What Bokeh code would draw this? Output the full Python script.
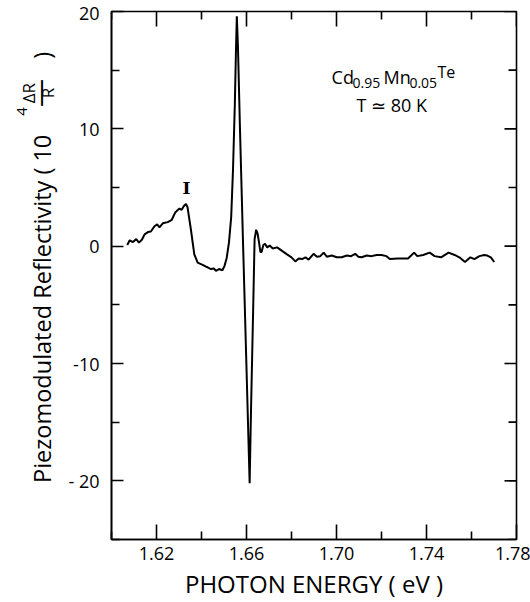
import math
from bokeh.plotting import figure
from bokeh.models import FixedTicker, Label, Range1d, NumeralTickFormatter
from bokeh.layouts import row
from bokeh.embed import file_html
from bokeh.resources import INLINE

# ---------------- data ----------------
energy = [1.6070, 1.6081, 1.6095, 1.6110, 1.6122, 1.6135, 1.6147, 1.6162, 1.6175, 1.6191,
          1.6203, 1.6213, 1.6228, 1.6250, 1.6268, 1.6284, 1.6302, 1.6312, 1.6321, 1.6331,
          1.6338, 1.6353, 1.6368, 1.6383, 1.6405, 1.6420, 1.6427, 1.6442, 1.6455, 1.6464,
          1.6478, 1.6493, 1.6502, 1.6512, 1.6522, 1.6532, 1.6540, 1.6548, 1.6553, 1.6557,
          1.6562, 1.6571, 1.6585, 1.6600, 1.6614, 1.6620, 1.6630, 1.6636, 1.6643, 1.6649,
          1.6655, 1.6662, 1.6667, 1.6675, 1.6682, 1.6692, 1.6703, 1.6717, 1.6736, 1.6758,
          1.6780, 1.6800, 1.6817, 1.6832, 1.6847, 1.6862, 1.6876, 1.6898, 1.6913, 1.6928,
          1.6943, 1.6957, 1.6979, 1.7001, 1.7023, 1.7046, 1.7065, 1.7083, 1.7097, 1.7112,
          1.7134, 1.7156, 1.7178, 1.7200, 1.7222, 1.7237, 1.7274, 1.7318, 1.7345, 1.7359,
          1.7385, 1.7414, 1.7436, 1.7465, 1.7498, 1.7525, 1.7546, 1.7571, 1.7595, 1.7613,
          1.7635, 1.7657, 1.7670, 1.7686, 1.7701]
signal = [0.1, 0.5, 0.35, 0.6, 0.3, 0.55, 1.0, 1.2, 1.25, 1.7,
          1.85, 1.6, 1.95, 2.05, 2.25, 2.9, 3.2, 3.1, 3.4, 3.6,
          3.3, 1.4, -0.7, -1.4, -1.6, -1.75, -1.8, -1.95, -1.9, -2.1,
          -1.95, -2.05, -1.7, -1.0, 0.3, 2.5, 6.5, 12.0, 16.5, 19.6,
          17.0, 10.0, 0.0, -10.4, -20.2, -14.0, -5.0, 0.6, 1.4, 1.1,
          0.4, -0.5, -0.5, 0.1, 0.2, -0.1, 0.05, -0.2, -0.1, -0.4,
          -0.7, -0.95, -1.3, -1.05, -1.1, -0.95, -1.15, -0.65, -0.9, -0.85,
          -0.55, -0.9, -0.8, -0.95, -0.95, -0.8, -0.85, -0.65, -0.9, -0.95,
          -0.8, -0.85, -0.75, -0.75, -0.85, -1.1, -1.05, -1.05, -0.55, -0.85,
          -0.75, -0.55, -0.85, -0.95, -0.55, -0.75, -0.95, -1.35, -0.95, -1.1,
          -0.85, -0.75, -0.8, -0.95, -1.35]

x_major = [1.62, 1.66, 1.70, 1.74, 1.78]
x_minor = [1.60, 1.64, 1.68, 1.72, 1.76]
y_major = [-20, -10, 0, 10, 20]
y_minor = [-25, -15, -5, 5, 15]
y_tick_labels = {-20: "- 20", -10: "-10", 0: "0", 10: "10", 20: "20"}
x_lo, x_hi = 1.60, 1.78
y_lo, y_hi = -25, 20

x_title = "PHOTON ENERGY ( eV )"
y_title = "Piezomodulated Reflectivity ( 10"
peak_label = "I"

FONT = "Open Sans"
LW = 1.6

# ---------------- main plot ----------------
p = figure(width=472, height=602,
           x_range=Range1d(x_lo, x_hi), y_range=Range1d(y_lo, y_hi),
           output_backend="svg", toolbar_location=None,
           min_border_left=53, min_border_right=14,
           min_border_top=11, min_border_bottom=62)
p.grid.visible = False
p.outline_line_color = "black"
p.outline_line_width = LW


def style(ax, major, minor, maj_len, min_len):
    ax.ticker = FixedTicker(ticks=major, minor_ticks=minor)
    ax.major_tick_in = maj_len
    ax.major_tick_out = 0
    ax.minor_tick_in = min_len
    ax.minor_tick_out = 0
    ax.axis_line_color = "black"
    ax.major_tick_line_color = "black"
    ax.minor_tick_line_color = "black"
    ax.axis_line_width = LW
    ax.major_tick_line_width = LW
    ax.minor_tick_line_width = LW
    ax.major_label_text_font = FONT
    ax.major_label_text_font_size = "18px"
    ax.major_label_text_color = "black"


style(p.xaxis[0], x_major, x_minor, 15, 8)
style(p.yaxis[0], y_major, y_minor, 12, 8)
p.xaxis[0].formatter = NumeralTickFormatter(format="0.00")
p.xaxis[0].major_label_standoff = 7
p.yaxis[0].major_label_standoff = 12
p.yaxis[0].major_label_overrides = y_tick_labels
p.xaxis[0].axis_label = x_title
p.xaxis[0].axis_label_text_font = FONT
p.xaxis[0].axis_label_text_font_size = "24px"
p.xaxis[0].axis_label_text_font_style = "normal"
p.xaxis[0].axis_label_text_color = "black"
p.xaxis[0].axis_label_standoff = 4

# inward ticks on the top and right edges of the frame
p.ray(x=x_major, y=y_hi, length=15, length_units="screen", angle=-math.pi / 2,
      line_color="black", line_width=LW)
p.ray(x=x_minor, y=y_hi, length=8, length_units="screen", angle=-math.pi / 2,
      line_color="black", line_width=LW)
p.ray(x=x_hi, y=y_major, length=12, length_units="screen", angle=math.pi,
      line_color="black", line_width=LW)
p.ray(x=x_hi, y=y_minor, length=8, length_units="screen", angle=math.pi,
      line_color="black", line_width=LW)

p.line(energy, signal, line_color="black", line_width=2)


def lab(fig, x, y, text, size, **kw):
    opts = dict(text_font=FONT, text_color="black", text_font_size=size,
                text_baseline="alphabetic")
    opts.update(kw)
    fig.add_layout(Label(x=x, y=y, text=text, **opts))


lab(p, 1.6333, 5.0, peak_label, "17px", text_font="DejaVu Serif",
    text_font_style="bold", text_align="center", text_baseline="middle")
lab(p, 1.6978, 14.39, "Cd", "18px")
lab(p, 1.7071, 13.90, "0.95", "14px")
lab(p, 1.7209, 14.39, "Mn", "18px")
lab(p, 1.7324, 13.90, "0.05", "14px")
lab(p, 1.7449, 14.81, "Te", "16px")
lab(p, 1.7089, 12.05, "T \u2243 80 K", "18px")

# ---------------- y title strip ----------------
q = figure(width=58, height=602, x_range=Range1d(0, 58), y_range=Range1d(602, 0),
           output_backend="svg", toolbar_location=None,
           x_axis_type=None, y_axis_type=None,
           min_border_left=0, min_border_right=0, min_border_top=0, min_border_bottom=0)
q.grid.visible = False
q.outline_line_color = None

rot = dict(angle=math.pi / 2)
lab(q, 41, 339, y_title, "23.5px", text_align="center", text_baseline="middle", **rot)
lab(q, 21, 114, "4", "15px", text_align="center", text_baseline="middle", **rot)
lab(q, 28, 93, "\u0394R", "17px", text_align="center", text_baseline="middle", **rot)
lab(q, 37, 93, "\u2014", "28px", text_align="center", text_baseline="middle", **rot)
lab(q, 47, 93, "R", "17px", text_align="center", text_baseline="middle", **rot)
lab(q, 41, 50, ")", "23.5px", text_align="center", text_baseline="middle", **rot)

layout = row(q, p, spacing=0)
open("out.html", "w").write(file_html(layout, INLINE))
